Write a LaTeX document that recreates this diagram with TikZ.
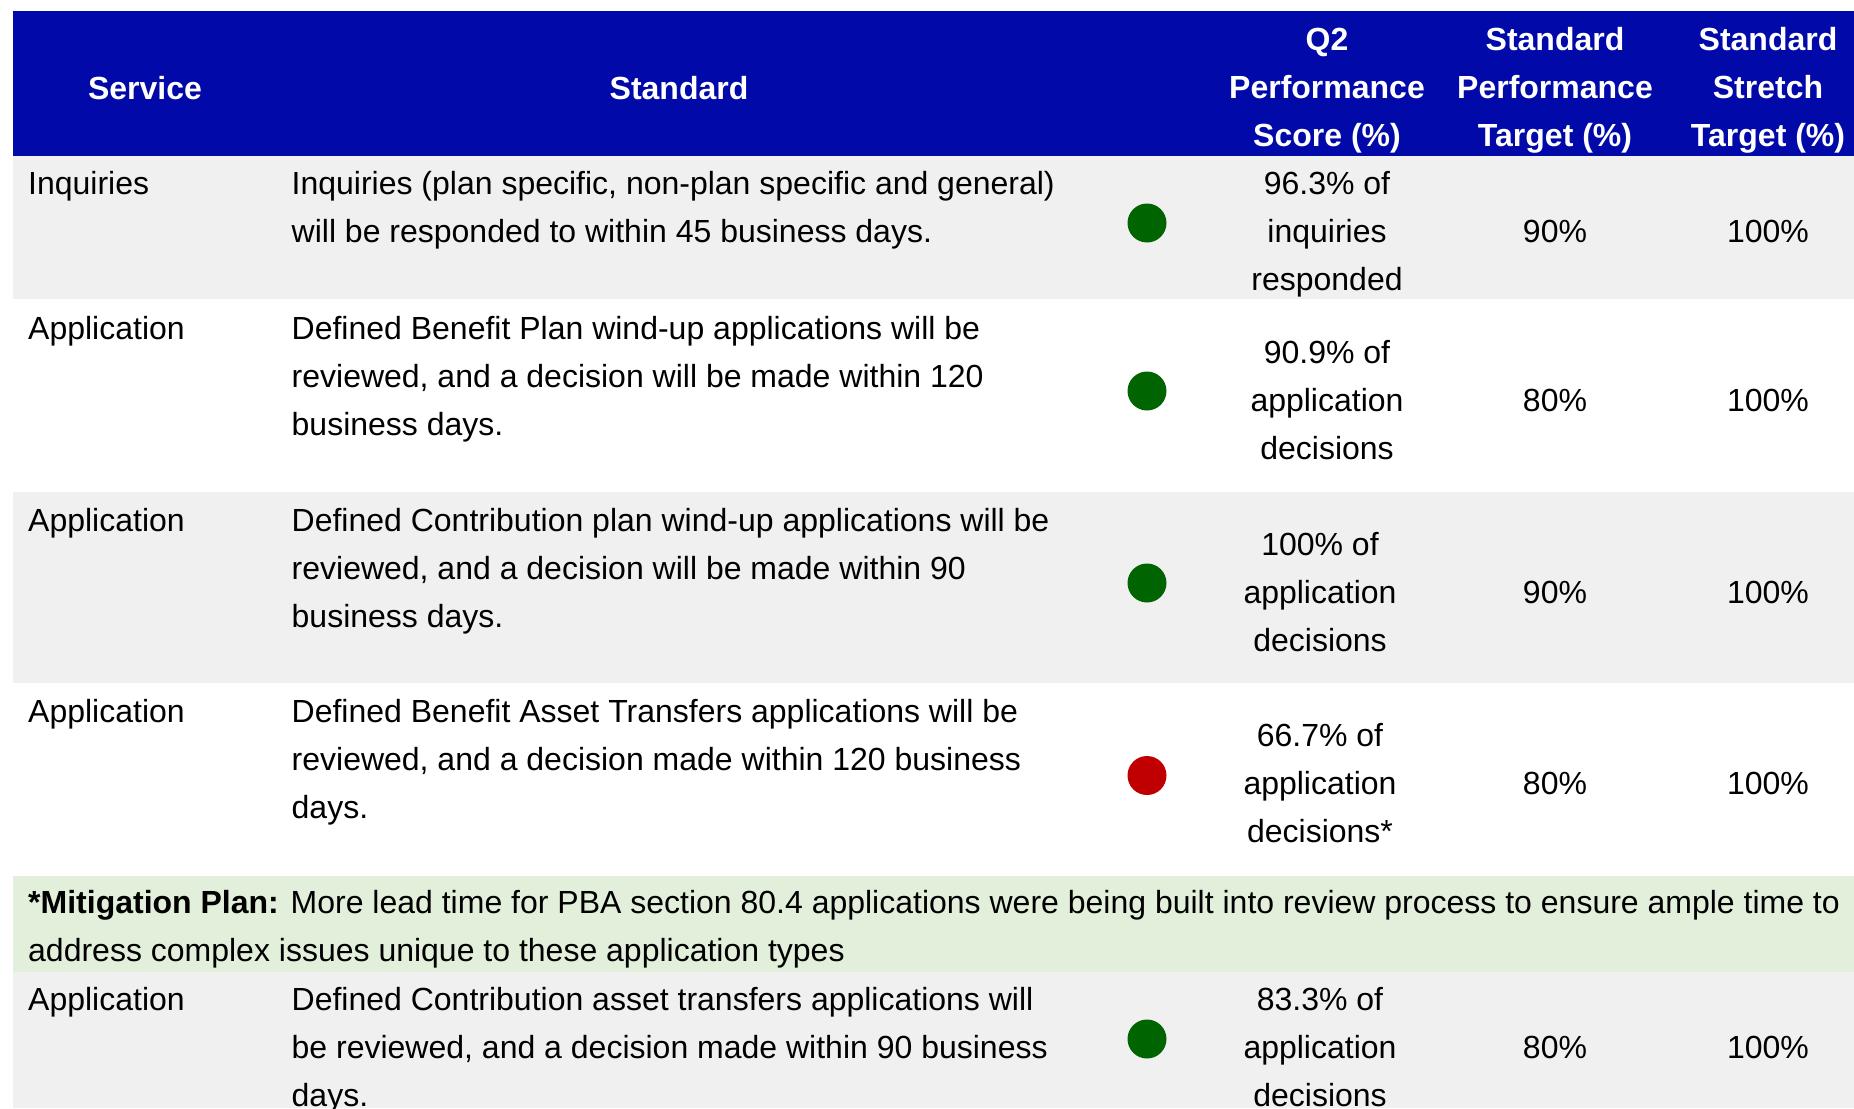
\documentclass[tikz,border=0pt]{standalone}
\usepackage{fontspec}
\setmainfont{Liberation Sans}
\usetikzlibrary{positioning}
\definecolor{hdrblue}{RGB}{1,9,168}
\definecolor{rowgray}{RGB}{240,240,240}
\definecolor{mitgreen}{RGB}{226,239,218}
\definecolor{okgreen}{RGB}{0,100,0}
\definecolor{badred}{RGB}{192,0,0}
\tikzset{
  hdr/.style={text=white, font=\fontsize{32}{48}\selectfont\bfseries, align=center, inner sep=0pt, anchor=base},
  lft/.style={font=\fontsize{32}{48}\selectfont, align=left, inner sep=0pt, anchor=base west},
  mid/.style={font=\fontsize{32}{48}\selectfont, align=center, inner sep=0pt, anchor=base},
  status/.style={circle, minimum size=39pt, inner sep=0pt}
}

\begin{document}
\begin{tikzpicture}[x=1pt, y=-1pt]
            \useasboundingbox (0,0) rectangle (1854,1108);
            % bands
            \fill [hdrblue] (13,11) rectangle (1854,156);
            \fill [rowgray] (13,156) rectangle (1854,299);
            \fill [rowgray] (13,492) rectangle (1854,683);
            \fill [mitgreen] (13,876) rectangle (1854,972);
            \fill [rowgray] (13,972) rectangle (1854,1108);
            % header (multi-line nodes sit on their last line)
            \node [hdr] (hservice) at (145,99) {Service};
            \node [hdr] (hstandard) at (679,99) {Standard};
            \node [hdr] (hscore) at (1327,146) {Q2\\Performance\\Score (\%)};
            \node [hdr] (htarget) at (1555,146) {Standard\\Performance\\Target (\%)};
            \node [hdr] (hstretch) at (1768,146) {Standard\\Stretch\\Target (\%)};
            % inquiries
            \node [lft] (svc1) at (28,194) {Inquiries};
            \node [lft] (std1) at (291.5,242) {Inquiries (plan specific, non-plan specific and general)\\will be responded to within 45 business days.};
            \node [status, fill=okgreen] (status1) at (1147,223) {};
            \node [mid] (score1) at (1327,290) {96.3\% of\\inquiries\\responded};
            \node [mid] (tgt1) at (1555,242) {90\%};
            \node [mid] (str1) at (1768,242) {100\%};
            % db wind-up
            \node [lft] (svc2) at (28,339) {Application};
            \node [lft] (std2) at (291.5,435) {Defined Benefit Plan wind-up applications will be\\reviewed, and a decision will be made within 120\\business days.};
            \node [status, fill=okgreen] (status2) at (1147,391) {};
            \node [mid] (score2) at (1327,459) {90.9\% of\\application\\decisions};
            \node [mid] (tgt2) at (1555,411) {80\%};
            \node [mid] (str2) at (1768,411) {100\%};
            % dc wind-up
            \node [lft] (svc3) at (28,531) {Application};
            \node [lft] (std3) at (291.5,627) {Defined Contribution plan wind-up applications will be\\reviewed, and a decision will be made within 90\\business days.};
            \node [status, fill=okgreen] (status3) at (1147,583) {};
            \node [mid] (score3) at (1320,651) {100\% of\\application\\decisions};
            \node [mid] (tgt3) at (1555,603) {90\%};
            \node [mid] (str3) at (1768,603) {100\%};
            % db asset transfers
            \node [lft] (svc4) at (28,722) {Application};
            \node [lft] (std4) at (291.5,818) {Defined Benefit Asset Transfers applications will be\\reviewed, and a decision made within 120 business\\days.};
            \node [status, fill=badred] (status4) at (1147,775.5) {};
            \node [mid] (score4) at (1320,842) {66.7\% of\\application\\decisions*};
            \node [mid] (tgt4) at (1555,794) {80\%};
            \node [mid] (str4) at (1768,794) {100\%};
            % mitigation
            \node [lft] (mitigation) at (28,961) {\textbf{*Mitigation Plan:} More lead time for PBA section 80.4 applications were being built into review process to ensure ample time to\\address complex issues unique to these application types};
            % dc asset transfers
            \node [lft] (svc5) at (28,1010) {Application};
            \node [lft] (std5) at (291.5,1106) {Defined Contribution asset transfers applications will\\be reviewed, and a decision made within 90 business\\days.};
            \node [status, fill=okgreen] (status5) at (1147,1039) {};
            \node [mid] (score5) at (1320,1106) {83.3\% of\\application\\decisions};
            \node [mid] (tgt5) at (1555,1058) {80\%};
            \node [mid] (str5) at (1768,1058) {100\%};
        \end{tikzpicture}
\end{document}
